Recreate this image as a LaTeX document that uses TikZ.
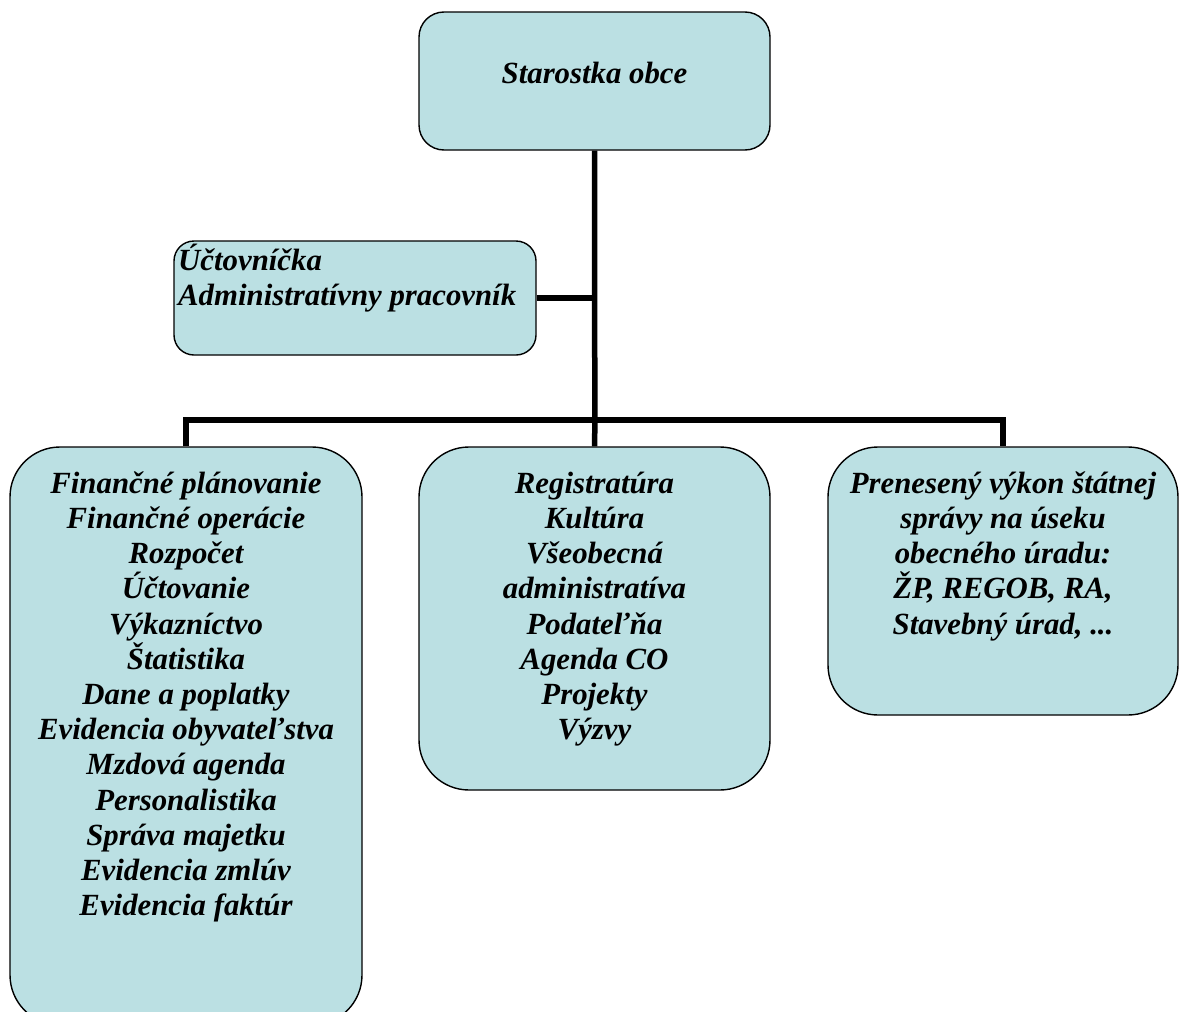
\documentclass[tikz,border=0pt]{standalone}
\usepackage{fontspec}
\setmainfont{Liberation Serif}
\definecolor{boxfill}{RGB}{187,224,227}
\begin{document}
\begin{tikzpicture}[x=1pt,y=-1pt,
  box/.style={draw=black, line width=1.4pt, fill=boxfill, rounded corners=#1, inner sep=0pt, shape=rectangle},
  conn/.style={draw=black, line width=5.5pt, line join=miter},
  txt/.style={inner sep=0pt, font=\fontsize{30.8}{35.2}\selectfont\bfseries\itshape},
  ctxt/.style={txt, align=center, anchor=north}]
\useasboundingbox (0,0) rectangle (1179,1012);
\clip (0,0) rectangle (1179,1012);
% boxes
\node[box=25pt, minimum width=351pt, minimum height=138pt] (top) at (594.5,81) {};
\node[box=20pt, minimum width=362pt, minimum height=114pt] (acct) at (355,298) {};
\node[box=50pt, minimum width=352pt, minimum height=578pt] (left) at (186,736) {};
\node[box=50pt, minimum width=351pt, minimum height=343pt] (center) at (594.5,618.5) {};
\node[box=50pt, minimum width=350pt, minimum height=268pt] (right) at (1003,581) {};
% connectors
\coordinate (hub) at (595,420);
\draw[conn] (top.south) -- (top.south |- acct.east) -- (hub) -- (center.north);
\draw[conn] (acct.east) -- (acct.east -| hub);
\draw[conn] (left.north) -- (left.north |- hub) -- (right.north |- hub) -- (right.north);
% texts
\node[txt, anchor=base] (ttop) at (594.5,83) {Starostka obce};
\node[txt, align=left, anchor=north west] (tacct) at (178,243.4) {\strut Účtovníčka\\Administratívny pracovník};
\node[ctxt] (tleft) at (186,468.4) {\strut Finančné plánovanie\\Finančné operácie\\Rozpočet\\Účtovanie\\Výkazníctvo\\Štatistika\\Dane a poplatky\\Evidencia obyvateľstva\\Mzdová agenda\\Personalistika\\Správa majetku\\Evidencia zmlúv\\Evidencia faktúr};
\node[ctxt] (tcenter) at (594.5,468.4) {\strut Registratúra\\Kultúra\\Všeobecná\\administratíva\\Podateľňa\\Agenda CO\\Projekty\\Výzvy};
\node[ctxt] (tright) at (1003,468.4) {\strut Prenesený výkon štátnej\\správy na úseku\\obecného úradu:\\ŽP, REGOB, RA,\\Stavebný úrad, ...};
\end{tikzpicture}
\end{document}
